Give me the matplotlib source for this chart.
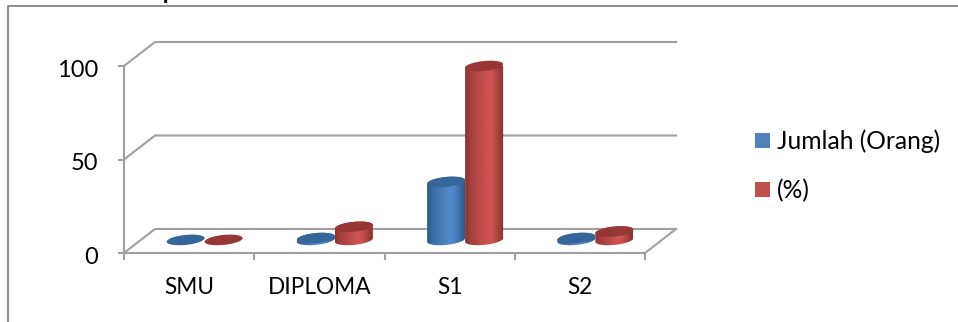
import numpy as np
import matplotlib
matplotlib.use("Agg")
import matplotlib.pyplot as plt
from matplotlib.colors import LinearSegmentedColormap
from matplotlib.patches import PathPatch, Polygon, Rectangle
from matplotlib.path import Path

plt.rcParams['font.family'] = ['Lato', 'DejaVu Sans']

categories = ["SMU", "DIPLOMA", "S1", "S2"]
jumlah = [0, 1, 31, 1]
persen = [0, 7, 93, 4.5]
series_names = ["Jumlah (Orang)", "(%)"]
y_ticks = [0, 50, 100]

W, H = 958, 322
GRAY = "#a0a0a0"

fig = plt.figure(figsize=(W / 100, H / 100), dpi=100)

# full page layer for the outer frame and legend, in pixels
page = fig.add_axes([0, 0, 1, 1])
page.set_xlim(0, W)
page.set_ylim(H, 0)
page.axis("off")
page.plot([8, 8, 958], [322, 6, 6], color="#858585", lw=1.3)
page.text(40, -1, "Tabel 5. Responden Berdasarkan Pendidikan Terakhir", fontsize=16.5, fontweight="bold",
          ha="left", va="baseline", color="black")

# front plane of the 3d box
left, right, bottom, top = 124, 645, 253, 66
ax = fig.add_axes([left / W, 1 - bottom / H, (right - left) / W, (bottom - top) / H])
ax.set_xlim(0, 4)
ax.set_ylim(0, 100)
ax.axis("off")

px_x = 4 / (right - left)
px_y = 100 / (bottom - top)
depth_x = 31 * px_x
depth_y = 24 * px_y

# gridlines on the back wall and floor edges
for t in y_ticks:
    ax.plot([0, depth_x, 4 + depth_x], [t, t + depth_y, t + depth_y], color=GRAY, lw=1.5,
            clip_on=False, zorder=1)
ax.plot([0, 4, 4 + depth_x], [0, 0, depth_y], color=GRAY, lw=1.5, clip_on=False, zorder=1)
ax.plot([0, 0], [0, 100], color=GRAY, lw=1.5, clip_on=False, zorder=1)

for t in y_ticks:
    ax.plot([-5 * px_x, 0], [t, t], color=GRAY, lw=1.5, clip_on=False)
    ax.text(-26 * px_x, t - 4.5 * px_y, str(t), ha="right", va="center", fontsize=17, color="black")
for i in range(5):
    ax.plot([i, i], [0, -6 * px_y], color=GRAY, lw=1.5, clip_on=False)
for i, name in enumerate(categories):
    ax.text(i + 0.5, -34 * px_y, name, ha="center", va="center", fontsize=16.3, color="black")

radius = 19 * px_x
cap_h = 5 * px_y
cap_tilt = 1.8 * px_y
base_y = 7.0
t_ = np.linspace(0, 2 * np.pi, 121)


def ellipse(cx, cy):
    return cx + radius * np.cos(t_), cy + cap_h * np.sin(t_) + cap_tilt * np.cos(t_)


def cylinder(cx, value, edge, mid, cap, z):
    ex, ey = ellipse(cx, base_y + value)
    if value > 0:
        bx, by = ellipse(cx, base_y)
        lower = t_ >= np.pi
        upper = t_ <= np.pi
        # side wall: lower half of the base ellipse, then up and over the top
        verts = np.column_stack([np.concatenate([bx[lower], ex[upper]]),
                                 np.concatenate([by[lower], ey[upper]])])
        clip = PathPatch(Path(np.vstack([verts, verts[0]])), transform=ax.transData,
                         fc="none", ec="none", zorder=z)
        ax.add_patch(clip)
        cmap = LinearSegmentedColormap.from_list("side", [edge, mid])
        shade = np.interp(np.linspace(0, 1, 64), [0, 0.1, 0.55, 0.7, 0.9, 1], [0, 0.35, 1, 1, 0.35, 0])
        im = ax.imshow(shade[None, :], cmap=cmap, aspect="auto", interpolation="bilinear",
                       extent=[cx - radius, cx + radius, base_y - cap_h * 2, base_y + value + cap_h * 2],
                       zorder=z)
        im.set_clip_path(clip)
    ax.add_patch(Polygon(np.column_stack([ex, ey]), closed=True, fc=cap, ec="none", zorder=z + 0.1,
                         clip_on=False))


for i in range(4):
    cx = i + 0.5 + depth_x / 2
    cylinder(cx - radius, jumlah[i], "#2a5888", "#4f88c8", "#36659a", 3 + i)
    cylinder(cx + radius, persen[i], "#873230", "#cb5250", "#963735", 3.5 + i)

ax.set_xlim(0, 4)
ax.set_ylim(0, 100)

# legend
colors = ["#4f81bd", "#c0504d"]
for y, name, c in zip([140.5, 189.5], series_names, colors):
    page.add_patch(Rectangle((755, y - 7.5), 15, 15, fc=c, ec="none"))
    page.text(777, y + 1, name, va="center", ha="left", fontsize=17.7, color="black")

fig.savefig("out.png", dpi=100)
